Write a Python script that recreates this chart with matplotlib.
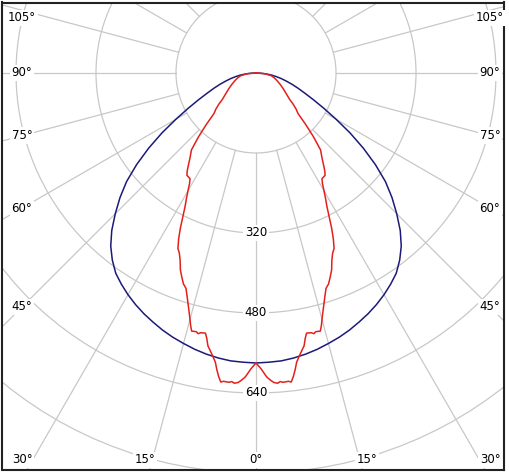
import numpy as np
import matplotlib.pyplot as plt
from matplotlib.patches import Circle

# luminous intensity (cd) vs angle from nadir, half curve 0..90 deg, mirrored
blue_angles = [0, 2.5, 5, 7.5, 10, 12.5, 15, 17.5, 20, 22.5, 25, 27.5, 30, 32.5, 35, 37.5,
               40, 42.5, 45, 47.5, 50, 52.5, 55, 57.5, 60, 62.5, 65, 67.5, 70, 72.5, 75,
               77.5, 80, 82.5, 85, 87.5, 90]
blue_cd = [580, 579, 578, 575, 571, 566, 560, 554, 547, 539, 531, 522, 512, 501, 489, 472,
           452, 427, 398, 369, 338, 301, 262, 223, 185, 153, 127, 106, 90, 76, 63,
           52, 41, 31, 20, 10, 0]

red_angles = [0, 1, 2, 2.7, 3.3, 4, 4.5, 5, 6, 6.5, 7, 7.5, 8, 9, 10, 10.5, 11, 12, 12.5,
              13, 14, 14.5, 15, 16, 17, 18, 19, 20, 21, 22, 23, 24, 25, 26, 27, 28, 29,
              30, 31, 32, 33, 34, 35, 36, 38, 40, 42, 44, 46, 48, 50, 52, 55, 60, 65,
              70, 75, 80, 85, 90]
red_cd = [580, 592, 608, 615, 620, 622, 619, 621, 620, 622, 612, 599, 584, 568, 554, 540,
          530, 531, 534, 531, 532, 522, 510, 489, 470, 453, 446, 434, 422, 405, 392, 384,
          366, 345, 322, 302, 287, 272, 258, 249, 248, 247, 240, 231, 214, 201, 172, 143,
          117, 108, 97, 85, 75, 63, 53, 45, 38, 31, 18, 0]

ring_radii = [160, 320, 480, 640, 800, 960, 1120]
ring_labels = [320, 480, 640]
angle_ticks = [0, 15, 30, 45, 60, 75, 90, 105]

GRID = '#c8c8c8'
BLUE = '#1c1a78'
RED = '#e3201b'


def full_curve(angles, cd):
    a = np.asarray(angles, float)
    c = np.asarray(cd, float)
    g = np.concatenate([-a[::-1], a[1:]])
    r = np.concatenate([c[::-1], c[1:]])
    g = np.radians(g)
    return r * np.sin(g), -r * np.cos(g)


fig = plt.figure(figsize=(5.10, 4.72), dpi=100)
ax = fig.add_axes([2.5 / 510, 1.5 / 472, 502 / 510, 468 / 472])
ax.set_xlim(-507, 497)
ax.set_ylim(-795, 141)
ax.set_aspect('equal')
ax.set_xticks([])
ax.set_yticks([])
for s in ax.spines.values():
    s.set_linewidth(1.5)
    s.set_color('#222222')

# grid rings and spokes
for r in ring_radii:
    ax.add_patch(Circle((0, 0), r, fill=False, ec=GRID, lw=0.9, zorder=1))
for a in range(0, 360, 15):
    t = np.radians(a)
    ax.plot([160 * np.sin(t), 1500 * np.sin(t)], [-160 * np.cos(t), -1500 * np.cos(t)],
            color=GRID, lw=0.9, zorder=1)

# curves
bx, by = full_curve(blue_angles, blue_cd)
ax.plot(bx, by, color=BLUE, lw=1.1, zorder=3)
rx, ry = full_curve(red_angles, red_cd)
ax.plot(rx, ry, color=RED, lw=1.1, zorder=3)

box = dict(boxstyle='square,pad=0.15', fc='white', ec='none')
fs = 8.5

for v in ring_labels:
    ax.text(0, -v, str(v), ha='center', va='center', fontsize=fs, bbox=box, zorder=4)

# angle labels where spokes meet the frame
XL, YB, YLO, YHI = 468, 826, -774, 110
for a in angle_ticks:
    t = np.radians(a)
    s, c = np.sin(t), np.cos(t)
    dist = min(XL / s if s > 1e-9 else 1e9, YB / c if c > 1e-9 else 1e9)
    for sign in ([1] if a == 0 else [-1, 1]):
        x = sign * dist * s
        y = -dist * c
        x = np.clip(x, -XL, XL)
        y = np.clip(y, YLO, YHI)
        ax.text(x, y, f'{a}°', ha='center', va='center', fontsize=fs, bbox=box, zorder=4)

fig.savefig('out.png', dpi=100)
